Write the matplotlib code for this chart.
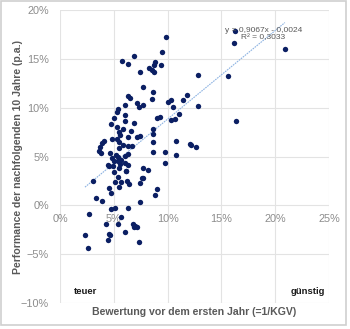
import numpy as np
import matplotlib
matplotlib.use('Agg')
import matplotlib.pyplot as plt
from matplotlib.ticker import PercentFormatter, MultipleLocator
from matplotlib.patches import Rectangle

plt.rcParams['font.family'] = ['Liberation Sans', 'DejaVu Sans']

# Bewertung (1/KGV) und Performance der folgenden 10 Jahre, jeweils in %
bew = [9.85, 9.5, 5.73, 6.3, 6.85, 8.8, 8.7, 9.35, 8.27, 8.55, 8.77, 7.46, 7.75, 8.6, 8.58,
       6.35, 6.54, 7.2, 7.34, 7.75, 6.07, 5.43, 5.27, 5.05, 6.07, 4.74, 6.0, 6.9, 5.33, 5.86,
       5.5, 5.58, 6.6, 5.3, 4.83, 6.32, 7.13, 7.43, 8.6, 9.0, 9.3, 8.64, 10.0, 10.35, 10.5,
       10.3, 3.87, 3.72, 3.65, 3.84, 4.06, 5.48, 5.82, 5.48, 6.35, 6.72, 4.65, 5.2, 6.0, 6.3,
       8.67, 9.76, 9.8, 16.3, 16.2, 20.9, 12.8, 15.6, 11.8, 11.43, 12.8, 11.1, 16.36, 10.8,
       12.05, 12.2, 12.6, 10.75, 3.04, 4.55, 4.77, 3.32, 3.93, 4.6, 5.48, 6.13, 5.1, 5.64,
       6.2, 6.4, 5.4, 5.5, 7.4, 7.7, 7.75, 8.15, 9.0, 8.83, 7.43, 4.74, 5.11, 6.3, 2.7, 5.7,
       4.25, 5.39, 6.82, 7.0, 7.2, 6.88, 2.32, 4.55, 4.65, 6.07, 4.43, 7.3, 2.6, 4.8, 5.4,
       5.05, 5.36, 4.5, 5.7, 5.57, 6.0, 4.95, 6.35, 6.1, 5.05, 8.67, 7.65, 10.7]
perf = [17.2, 15.7, 14.8, 14.5, 15.3, 14.7, 14.4, 14.4, 14.05, 13.9, 13.7, 13.7, 12.1, 11.6, 10.9,
        11.15, 11.0, 10.5, 10.1, 10.3, 10.3, 9.9, 9.55, 8.9, 9.2, 8.35, 8.6, 8.4, 8.05, 7.8,
        7.55, 7.25, 7.6, 6.8, 6.8, 7.0, 7.0, 7.05, 7.3, 8.9, 9.0, 7.8, 10.6, 10.8, 10.1,
        8.75, 6.35, 6.0, 5.6, 5.35, 6.6, 6.45, 6.2, 5.85, 6.05, 6.1, 5.35, 5.15, 5.1, 5.3,
        5.5, 5.5, 4.33, 17.9, 16.6, 16.0, 13.3, 13.2, 11.3, 10.8, 10.2, 9.4, 8.6, 6.55,
        6.3, 6.15, 6.0, 5.18, 2.45, 1.78, 1.27, 0.75, 0.48, 4.0, 3.82, 3.5, 2.35, 2.35,
        2.45, 2.2, 2.9, 1.85, 2.3, 2.75, 3.8, 3.65, 1.7, 1.1, 0.3, -0.37, -0.27, -0.24, -0.88, -1.22,
        -1.87, -1.87, -1.9, -2.07, -2.2, -2.18, -3.07, -2.9, -3.07, -2.72, -3.5, -3.8, -4.4, 4.85, 5.0,
        4.5, 4.5, 4.16, 4.67, 4.26, 4.33, 4.0, 4.16, 3.48, 3.4, 6.44, 2.8, 8.83]

# lineare Trendlinie
slope = 0.9067
intercept = -0.0024
r2 = 0.3033

grey = '#595959'
navy = '#0B1F63'

fig = plt.figure(figsize=(3.5, 3.29), dpi=100)
ax = fig.add_axes([60/350, 1 - 303/329, 269/350, 293/329])

ax.scatter(bew, perf, s=15, color=navy, linewidths=0, zorder=3)

xl = np.array([min(bew), max(bew)])
ax.plot(xl, (slope * xl / 100 + intercept) * 100, color='#8DB3E2', lw=0.8,
        ls=(0, (1.5, 0.8)), zorder=2)
ax.text(18.9, 17.55, 'y = {:.4f}x - {:.4f}\nR² = {:.4f}'.format(slope, -intercept, r2).replace('.', ','),
        ha='center', va='center', fontsize=6, color=grey, linespacing=1.05, zorder=4)

ax.set_xlim(0, 25)
ax.set_ylim(-10, 20)
ax.xaxis.set_major_locator(MultipleLocator(5))
ax.yaxis.set_major_locator(MultipleLocator(5))
ax.xaxis.set_major_formatter(PercentFormatter(decimals=0))
ax.yaxis.set_major_formatter(PercentFormatter(decimals=0))
ax.grid(True, color='#E3E3E3', lw=0.8, zorder=0)
ax.set_axisbelow(True)
for s in ax.spines.values():
    s.set_visible(False)
ax.spines['bottom'].set_position(('data', 0))
ax.tick_params(length=0, labelsize=7.8, labelcolor='#8C8C8C')
ax.tick_params(axis='x', pad=6)
ax.tick_params(axis='y', pad=8)

ax.text(1.3, -8.8, 'teuer', fontsize=6.8, fontweight='bold', color='#1a1a1a', va='center')
ax.text(24.6, -8.8, 'günstig', fontsize=6.8, fontweight='bold', color='#1a1a1a', va='center', ha='right')

fig.text(194.5/350, 1 - 312/329, 'Bewertung vor dem ersten Jahr (=1/KGV)', ha='center', va='center',
         fontsize=7.6, fontweight='bold', color=grey)
fig.text(18/350, 1 - 157/329, 'Performance der nachfolgenden 10 Jahre (p.a.)', ha='center', va='center',
         rotation=90, fontsize=7.6, fontweight='bold', color=grey)

fig.patches.append(Rectangle((0.003, 0.012), 0.985, 0.985, transform=fig.transFigure,
                             fill=False, edgecolor='#CFCFCF', lw=1.2))

fig.savefig('out.png', dpi=100)
